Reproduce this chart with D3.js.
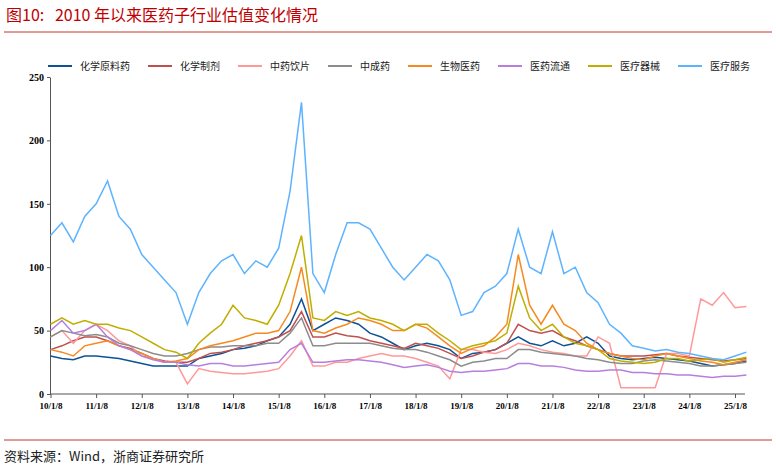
<!DOCTYPE html>
<html lang="zh">
<head>
<meta charset="UTF-8">
<title>医药子行业估值</title>
<style>
  body { margin: 0; padding: 0; background: #fff; }
  text { font-family: "Liberation Serif", "Noto Sans CJK SC", serif; }
  .cjk { font-family: "Noto Sans CJK SC", sans-serif; }
</style>
</head>
<body>
<div id="chart"></div>
<script src="https://cdn.jsdelivr.net/npm/d3@7"></script>
<script>
// data: quarterly samples from 2010/1 to 2025/4
const seriesNames = ["化学原料药", "化学制剂", "中药饮片", "中成药", "生物医药", "医药流通", "医疗器械", "医疗服务"];
const seriesColors = ["#0b5395", "#c0504d", "#ff9999", "#8c8c8c", "#f68a1f", "#b77fdd", "#bfae00", "#5eb3ff"];
const yearTicks = ["10/1/8", "11/1/8", "12/1/8", "13/1/8", "14/1/8", "15/1/8", "16/1/8", "17/1/8",
  "18/1/8", "19/1/8", "20/1/8", "21/1/8", "22/1/8", "23/1/8", "24/1/8", "25/1/8"];
const yTicks = [0, 50, 100, 150, 200, 250];

const chemApi = [30,28,27,30, 30,29,28,26, 24,22,22,22, 22,28,30,32, 35,36,38,42, 45,55,75,50, 55,60,58,55, 48,45,40,35, 38,40,38,35, 28,32,33,35, 40,45,40,38, 42,38,40,45, 40,30,28,27, 28,29,28,27, 26,24,22,23, 24,26];
const chemPrep = [35,38,42,45, 45,42,38,36, 32,28,26,25, 25,28,32,33, 35,38,40,42, 45,50,65,45, 45,48,46,45, 42,40,38,36, 40,38,36,32, 28,30,33,35, 40,55,50,48, 50,45,42,38, 35,32,30,30, 30,31,32,30, 29,28,27,26, 27,28];
const tcmPieces = [45,50,40,50, 55,50,42,38, 30,28,25,25, 8,20,18,17, 16,16,17,18, 20,30,42,22, 22,25,25,28, 30,32,30,30, 28,25,22,12, 35,35,33,32, 35,40,38,35, 33,32,30,30, 45,40,5,5, 5,5,32,32, 30,75,70,80, 68,69];
const tcmPatent = [45,50,48,46, 47,45,40,38, 35,32,30,30, 32,35,37,37, 38,38,38,40, 40,48,60,38, 38,40,40,40, 40,38,36,35, 35,33,30,27, 22,25,26,28, 28,35,35,33, 32,31,30,28, 27,25,24,24, 26,27,26,25, 24,22,22,23, 24,25];
const biotech = [35,33,30,38, 40,42,38,35, 32,28,25,26, 28,35,38,40, 42,45,48,48, 50,65,100,50, 48,52,55,60, 58,55,50,50, 55,52,45,38, 32,36,38,45, 55,110,70,55, 70,55,50,40, 35,32,30,28, 27,30,32,30, 28,26,25,23, 25,27];
const distribution = [50,58,48,50, 55,45,38,35, 30,27,25,25, 23,22,24,24, 22,22,23,24, 25,35,40,25, 25,26,27,27, 26,25,23,21, 22,23,21,18, 17,18,18,19, 20,24,24,22, 22,21,19,18, 18,19,19,17, 17,16,16,15, 15,14,13,14, 14,15];
const devices = [55,60,55,58, 55,55,52,50, 45,40,35,33, 28,40,48,55, 70,60,58,55, 70,95,125,60, 58,65,62,65, 60,58,55,50, 55,55,48,42, 35,38,40,42, 48,85,60,50, 55,45,40,38, 35,28,26,25, 24,25,28,28, 26,27,28,25, 27,29];
const services = [125,135,120,140, 150,168,140,130, 110,100,90,80, 55,80,95,105, 110,95,105,100, 115,160,230,95, 80,110,135,135, 130,115,100,90, 100,110,105,90, 62,65,80,85, 95,130,100,95, 128,95,100,80, 72,55,48,38, 36,34,35,33, 32,30,28,27, 30,33];

const allSeries = [chemApi, chemPrep, tcmPieces, tcmPatent, biotech, distribution, devices, services];

const w = 776, h = 470;
const svg = d3.select("#chart").append("svg").attr("width", w).attr("height", h);

// title and rules
svg.append("text").attr("class", "cjk").attr("x", 6).attr("y", 21)
  .attr("fill", "#c00000").attr("font-size", 16).attr("xml:space", "preserve")
  .text("图10:   2010 年以来医药子行业估值变化情况");
svg.append("line").attr("x1", 4).attr("x2", 772).attr("y1", 32).attr("y2", 32).attr("stroke", "#c0392b").attr("stroke-width", 1);
svg.append("line").attr("x1", 4).attr("x2", 772).attr("y1", 440).attr("y2", 440).attr("stroke", "#c0392b").attr("stroke-width", 1);
svg.append("text").attr("class", "cjk").attr("x", 4).attr("y", 461)
  .attr("font-size", 13).attr("fill", "#222").text("资料来源：Wind，浙商证券研究所");

const x = d3.scaleLinear().domain([2010, 2025]).range([50.5, 735]);
const y = d3.scaleLinear().domain([0, 250]).range([394, 77]);

const g = svg.append("g");

// y axis
g.append("g").attr("transform", "translate(50,0)")
  .call(d3.axisLeft(y).tickValues(yTicks).tickSize(3).tickSizeOuter(0))
  .call(a => a.selectAll("text").attr("font-size", 10).attr("font-weight", "bold").attr("fill", "#000"))
  .call(a => a.selectAll("line, path").attr("stroke", "#555"));

// x axis
g.append("g").attr("transform", "translate(0,394)")
  .call(d3.axisBottom(x).tickValues(d3.range(2010, 2026)).tickFormat((d, i) => yearTicks[i]).tickSize(4).tickSizeOuter(0))
  .call(a => a.select("path").attr("d", "M50,0H745"))
  .call(a => a.selectAll("text").attr("font-size", 9).attr("font-weight", "bold").attr("fill", "#000").attr("dy", "0.9em"))
  .call(a => a.selectAll("line, path").attr("stroke", "#555"));

const line = d3.line().x((d, i) => x(2010 + i * 0.25)).y(d => y(d));

allSeries.forEach((s, k) => {
  g.append("path").datum(s).attr("d", line)
    .attr("fill", "none").attr("stroke", seriesColors[k]).attr("stroke-width", 1.5);
});

// legend
const legendX = [48, 148, 238, 328, 408, 498, 588, 678];
const legend = svg.append("g").selectAll("g").data(seriesNames).enter().append("g")
  .attr("transform", (d, i) => `translate(${legendX[i]},66)`);
legend.append("line").attr("x1", 0).attr("x2", 24).attr("stroke", (d, i) => seriesColors[i]).attr("stroke-width", 2);
legend.append("text").attr("class", "cjk").attr("x", 32).attr("y", 4).attr("font-size", 10).attr("fill", "#222").text(d => d);
</script>
</body>
</html>
